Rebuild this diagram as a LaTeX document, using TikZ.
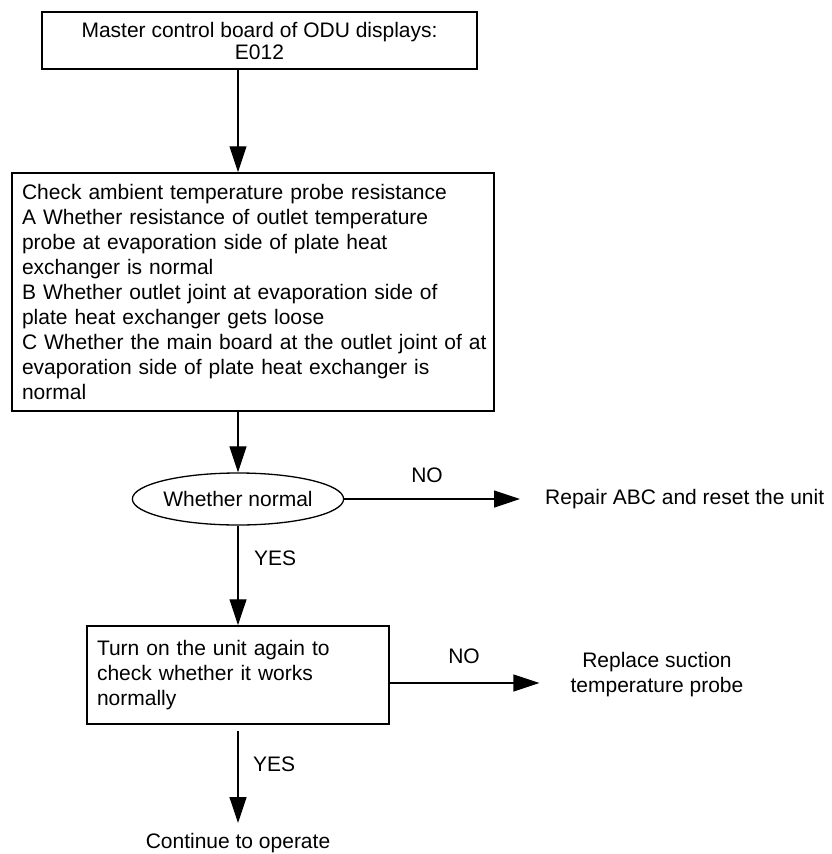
\documentclass[tikz,border=0pt]{standalone}
\usepackage{fontspec}
\setmainfont{Liberation Sans}
\usetikzlibrary{positioning,shapes.geometric,arrows.meta}

\begin{document}
\begin{tikzpicture}[x=1pt,y=-1pt,
	every node/.style = {font=\fontsize{21}{25}\selectfont},
	box/.style={shape=rectangle,draw,line width=1.5pt,inner xsep=10pt,align=left},
	decision/.style={shape=ellipse,draw,line width=1.3pt,inner sep=0pt,
	  minimum width=179pt,minimum height=52pt},
	plain/.style={inner sep=0pt,align=center},
	flow/.style={-{Triangle[length=26pt,width=17pt]},line width=1.2pt}
	]
  \useasboundingbox (0,0) rectangle (832,854);
  % boxes down the middle
  \node [box,align=center,minimum width=435pt,minimum height=57pt,
    font=\fontsize{21}{22}\selectfont] (start) at (259.5,40.5)
    {Master control board of ODU displays:\\E012};
  \node [box,text width=462pt,minimum height=238pt] (check) at (253,292)
    {Check ambient temperature probe resistance\\
     A Whether resistance of outlet temperature\\
     probe at evaporation side of plate heat\\
     exchanger is normal\\
     B Whether outlet joint at evaporation side of\\
     plate heat exchanger gets loose\\
     \mbox{C Whether the main board at the outlet joint of at}\\
     evaporation side of plate heat exchanger is\\
     normal};
  \node [decision] (normal) at (238,499) {Whether normal};
  \node [box,text width=282pt,minimum height=98pt] (again) at (238,675)
    {Turn on the unit again to\\check whether it works\\normally};
  % outcomes
  \node [plain,anchor=west] (repair) at (545,499) {Repair ABC and reset the unit};
  \node [plain] (replace) at (657,675) {Replace suction\\temperature probe};
  \node [plain] (cont) at (238,843) {Continue to operate};
  % branch labels
  \node [plain] (no1) at (427,475) {NO};
  \node [plain,anchor=west] (yes1) at (254,558) {YES};
  \node [plain] (no2) at (464,656) {NO};
  \node [plain,anchor=west] (yes2) at (253,764) {YES};
  % connectors
  \draw [flow] (start.south -| normal) -- (check.north -| normal);
  \draw [flow] (check.south -| normal) -- (normal);
  \draw [flow,shorten >=25pt] (normal.east) -- (normal.east -| repair.west);
  \draw [flow] (normal) -- (again);
  \draw [flow,shorten >=31pt] ([yshift=-8pt]again.east) -- ([yshift=-8pt]again.east -| replace.west);
  \draw [flow,shorten <=6pt,shorten >=10pt] (again) -- (cont);
\end{tikzpicture}
\end{document}
